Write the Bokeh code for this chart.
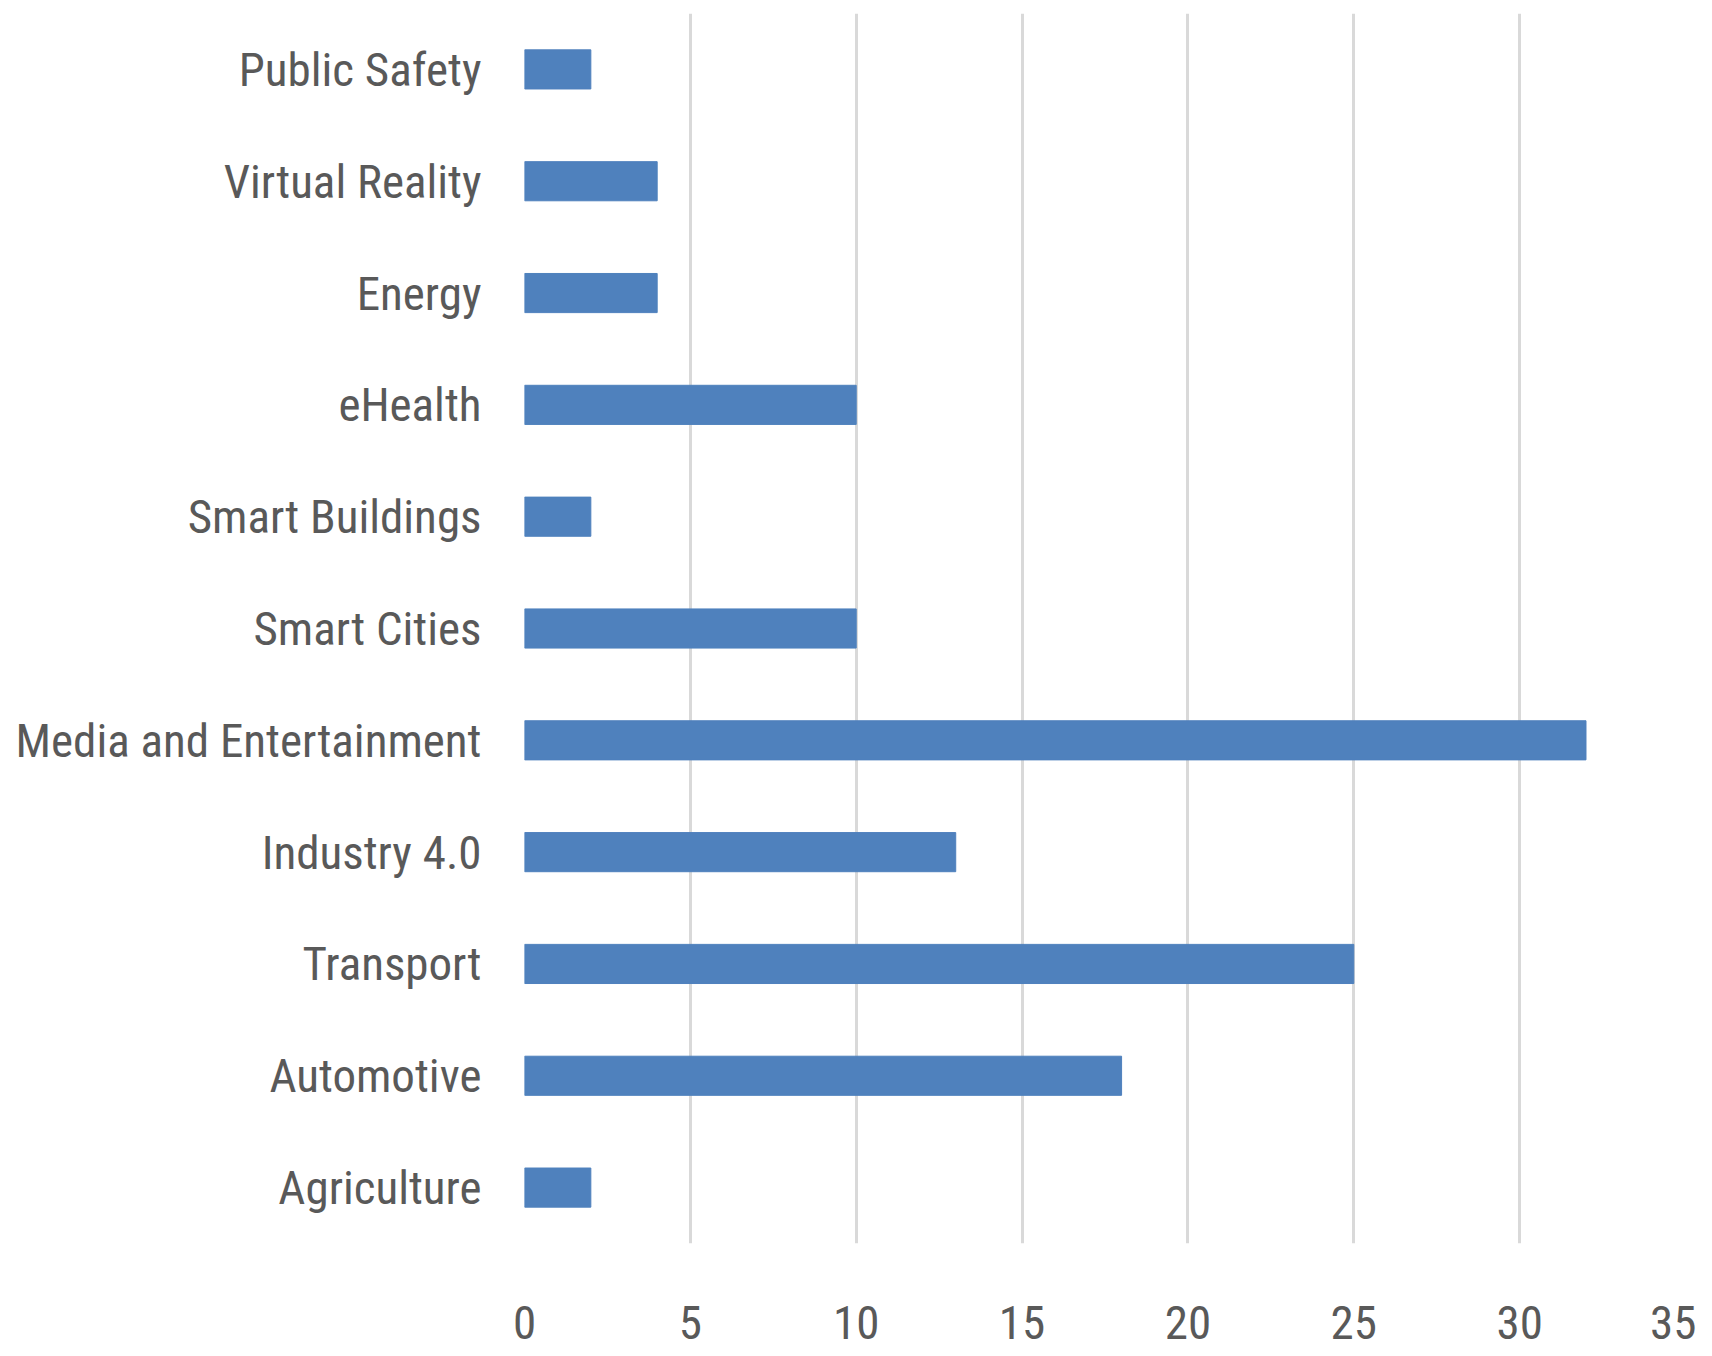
from bokeh.plotting import figure
from bokeh.models import FactorRange, Range1d, FixedTicker
from bokeh.embed import file_html
from bokeh.resources import INLINE

# Data (bottom to top)
categories = ["Agriculture", "Automotive", "Transport", "Industry 4.0",
              "Media and Entertainment", "Smart Cities", "Smart Buildings",
              "eHealth", "Energy", "Virtual Reality", "Public Safety"]
values = [2, 18, 25, 13, 32, 10, 2, 10, 4, 4, 2]
x_ticks = [0, 5, 10, 15, 20, 25, 30, 35]

FONT = "'Roboto Condensed', 'Open Sans Condensed', 'DejaVu Sans Condensed', 'Noto Sans'"
TXT = "#595959"

p = figure(width=1696, height=1356, output_backend="svg", toolbar_location=None,
           y_range=FactorRange(factors=categories), x_range=Range1d(0, 35),
           min_border_left=524, min_border_right=11, min_border_top=13,
           min_border_bottom=113)

p.hbar(y=categories, right=values, left=0, height=0.35, color="#4F81BD")

p.outline_line_color = None
p.ygrid.grid_line_color = None
p.xgrid.grid_line_color = "#D9D9D9"
p.xgrid.grid_line_width = 3
p.xaxis.ticker = FixedTicker(ticks=x_ticks)

for ax in (p.xaxis[0], p.yaxis[0]):
    ax.axis_line_color = None
    ax.major_tick_line_color = None
    ax.minor_tick_line_color = None
    ax.major_label_text_font = FONT
    ax.major_label_text_font_size = "47px"
    ax.major_label_text_color = TXT

p.yaxis.major_label_standoff = 37
p.xaxis.major_label_standoff = 56

open("out.html", "w").write(file_html(p, INLINE))
